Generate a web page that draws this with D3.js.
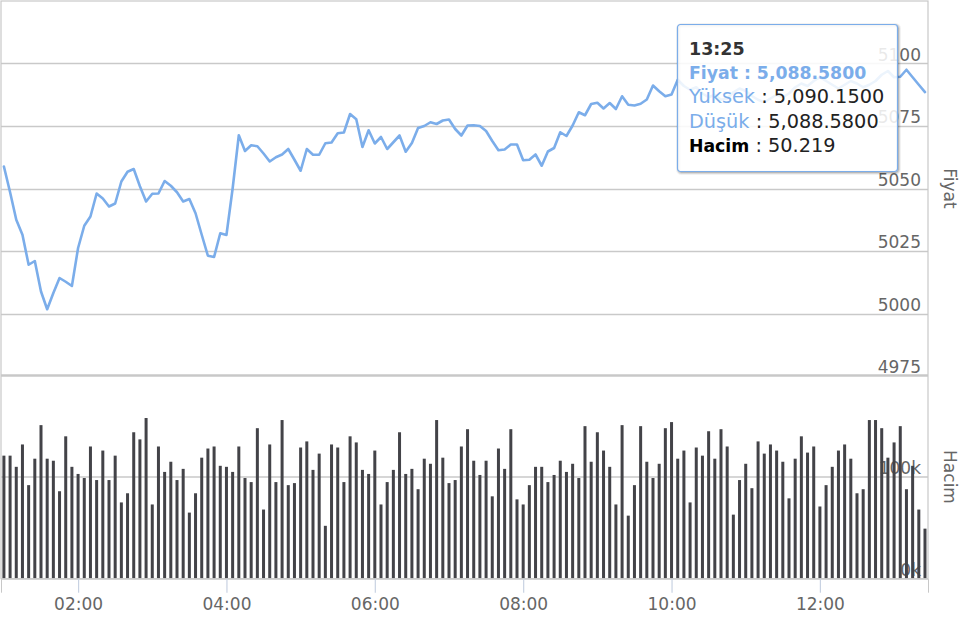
<!DOCTYPE html>
<html><head><meta charset="utf-8">
<script src="https://cdn.jsdelivr.net/npm/d3@7"></script>
<style>
html,body{margin:0;padding:0;background:#fff;}
svg{display:block;font-family:"DejaVu Sans",sans-serif;}
</style></head>
<body><svg id="c" width="960" height="623"></svg>
<script>
// ---- data ----
const startTime = "01:00";
const stepMinutes = 5;
const price = [
5058.8,5048.5,5037.5,5031.5,5019.5,5021.0,5008.8,5001.7,5008.2,5014.2,
5012.7,5011.0,5026.2,5035.1,5038.8,5048.0,5046.0,5042.8,5044.0,5052.8,
5056.7,5057.8,5050.9,5044.8,5047.9,5048.0,5053.0,5051.1,5048.5,5044.8,
5045.8,5040.1,5031.5,5023.1,5022.6,5032.1,5031.4,5050.0,5071.3,5065.0,
5067.3,5066.9,5064.0,5060.8,5062.5,5063.6,5065.8,5061.5,5057.1,5065.8,
5063.5,5063.5,5068.1,5068.4,5072.1,5072.4,5079.8,5077.7,5066.6,5073.3,
5068.0,5070.6,5065.8,5068.5,5071.2,5064.7,5068.2,5074.2,5075.0,5076.5,
5075.8,5077.2,5077.6,5073.8,5071.2,5075.2,5075.3,5075.0,5073.0,5069.0,
5065.3,5065.6,5067.6,5067.6,5061.3,5061.5,5063.6,5059.1,5064.8,5066.2,
5072.5,5071.0,5075.2,5080.5,5079.3,5083.8,5084.3,5082.0,5084.2,5081.8,
5086.9,5083.5,5083.2,5083.9,5085.6,5091.2,5088.9,5086.9,5087.6,5093.5,
5091.0,5089.5,5090.5,5088.0,5086.5,5087.5,5085.5,5086.0,5088.5,5090.0,
5089.0,5087.0,5085.5,5084.5,5086.0,5087.5,5086.5,5088.0,5090.5,5092.0,
5091.0,5093.0,5094.5,5093.0,5091.5,5090.0,5091.5,5093.0,5092.0,5090.5,
5091.5,5093.0,5095.5,5097.0,5094.5,5094.7,5097.5,5094.5,5091.5,5088.58
];
const volume = [
121,121,110,132,92,118,151,118,116,86,
140,110,103,99,130,97,126,97,121,75,
84,144,137,158,73,130,105,115,97,108,
65,84,119,128,130,111,110,105,130,99,
95,148,68,132,95,156,92,94,129,135,
107,123,52,132,129,95,140,134,107,103,
126,73,95,107,144,103,108,88,118,113,
156,119,94,97,130,147,116,102,116,81,
128,108,147,78,73,92,110,110,95,102,
116,105,113,99,150,115,144,126,110,73,
151,62,92,150,115,99,113,148,154,118,
126,75,129,121,145,118,147,130,63,97,
113,89,135,123,132,126,115,79,118,140,
124,130,71,92,110,126,132,118,84,88,
156,156,148,119,134,150,88,111,68,49.219
].map(v => v * 1000);
const xTickLabels = ["02:00","04:00","06:00","08:00","10:00","12:00"];
const priceTicks = [4975,5000,5025,5050,5075,5100];
const volumeTicks = [0,100000];
const volumeTickLabels = ["0k","100k"];
const tooltipTitle = "13:25";
const tooltipRows = [
  {label:"Fiyat", value:"5,088.5800", kind:"main"},
  {label:"Yüksek", value:"5,090.1500", kind:"sub"},
  {label:"Düşük", value:"5,088.5800", kind:"sub"},
  {label:"Hacim", value:"50.219", kind:"vol"}
];
const priceTitle = "Fiyat", volumeTitle = "Hacim";

// ---- build ----
const parse = s => { const [h,m] = s.split(":").map(Number); return new Date(2020,0,1,h,m); };
const t0 = parse(startTime);
const times = price.map((_, i) => new Date(t0.getTime() + i * stepMinutes * 60000));
const data = times.map((t, i) => ({t, p: price[i], v: volume[i]}));

const svg = d3.select("#c");
const L = 1, R = 928;
const pTop = 1, pBot = 376, vTop = 375.3, vBot = 578.7;
const LINE = "#7badea", BAR = "#434348", GRID = "#c9c9c9", TXT = "#666666";

const x = d3.scaleTime()
  .domain([new Date(2020,0,1,0,57,39), new Date(2020,0,1,13,27,26)])
  .range([L, R]);
const yP = d3.scaleLinear().domain([4975,5125]).range([pBot, pTop]);
const yV = d3.scaleLinear().domain([0,200000]).range([vBot, vTop]);

// gridlines price
svg.append("g").selectAll("line").data(priceTicks.slice(1)).join("line")
  .attr("x1", L).attr("x2", R)
  .attr("y1", d => Math.round(yP(d)) + 0.5).attr("y2", d => Math.round(yP(d)) + 0.5)
  .attr("stroke", GRID).attr("stroke-width", 1.3);
// gridline volume 100k
svg.append("line").attr("x1", L).attr("x2", R)
  .attr("y1", yV(100000)).attr("y2", yV(100000))
  .attr("stroke", GRID).attr("stroke-width", 1.3);

// volume labels (behind bars)
const volAxis = d3.axisLeft(yV).tickValues(volumeTicks).tickSize(0)
  .tickFormat((d,i) => volumeTickLabels[i]);
const gva = svg.append("g").attr("transform", `translate(${921},0)`).call(volAxis);
gva.select(".domain").remove();
gva.selectAll("text").attr("x", 0).attr("dy", "-0.2em")
  .attr("fill", TXT).attr("font-size", 17).attr("font-family", "DejaVu Sans");

// bars
svg.append("g").selectAll("rect").data(data).join("rect")
  .attr("x", d => x(d.t) - 1.5).attr("width", 3)
  .attr("y", d => yV(d.v)).attr("height", d => vBot - yV(d.v))
  .attr("fill", BAR);

// price axis labels
const pAxis = d3.axisLeft(yP).tickValues(priceTicks).tickSize(0).tickFormat(d3.format("d"));
const gpa = svg.append("g").attr("transform", `translate(${921},0)`).call(pAxis);
gpa.select(".domain").remove();
gpa.selectAll("text").attr("x", 0).attr("dy", "-0.2em")
  .attr("fill", TXT).attr("font-size", 17).attr("font-family", "DejaVu Sans");

// price line
svg.append("clipPath").attr("id","clipP").append("rect")
  .attr("x", L).attr("y", pTop).attr("width", R - L).attr("height", pBot - pTop);
svg.append("path").datum(data)
  .attr("clip-path", "url(#clipP)")
  .attr("d", d3.line().x(d => x(d.t)).y(d => yP(d.p)))
  .attr("fill", "none").attr("stroke", LINE).attr("stroke-width", 2.6)
  .attr("stroke-linejoin", "round").attr("stroke-linecap", "round");

// borders
svg.append("rect").attr("x", L).attr("y", pTop).attr("width", R - L).attr("height", vBot - pTop)
  .attr("fill", "none").attr("stroke", "#c8c8c8").attr("stroke-width", 1.2);
svg.append("line").attr("x1", L).attr("x2", R).attr("y1", 375.5).attr("y2", 375.5)
  .attr("stroke", "#c8c8c8").attr("stroke-width", 2.6);

// x axis
const xAxis = d3.axisBottom(x)
  .tickValues(xTickLabels.map(parse))
  .tickSize(14).tickFormat(d3.timeFormat("%H:%M"));
const gx = svg.append("g").attr("transform", `translate(0,${vBot})`).call(xAxis);
gx.select(".domain").attr("stroke", "#c8c8c8");
gx.selectAll(".tick line").attr("stroke", "#c8d2e2").attr("stroke-width", 1.2);
gx.selectAll("text").attr("fill", TXT).attr("font-size", 17)
  .attr("font-family", "DejaVu Sans").attr("y", 19).attr("dy", "0.71em");

// axis titles
svg.append("text").attr("transform", `translate(944,${(pTop+pBot)/2}) rotate(90)`)
  .attr("text-anchor", "middle").attr("fill", TXT).attr("font-size", 17).text(priceTitle);
svg.append("text").attr("transform", `translate(944,${yV(100000)}) rotate(90)`)
  .attr("text-anchor", "middle").attr("fill", TXT).attr("font-size", 17).text(volumeTitle);

// tooltip
const tt = svg.append("g").attr("transform", "translate(677.5,24.5)");
[5,3,1].forEach((w,i) => tt.append("rect")
  .attr("x", 1).attr("y", 1).attr("width", 220).attr("height", 147).attr("rx", 3)
  .attr("fill", "none").attr("stroke", "#000").attr("stroke-opacity", 0.05 * (i + 1))
  .attr("stroke-width", w));
tt.append("rect").attr("width", 220).attr("height", 147).attr("rx", 3)
  .attr("fill", "rgba(255,255,255,0.86)").attr("stroke", LINE).attr("stroke-width", 1.2);
tt.append("text").attr("x", 11.5).attr("y", 30.5).attr("font-size", 17.5)
  .attr("font-weight", "bold").attr("fill", "#333").text(tooltipTitle);
tooltipRows.forEach((r, i) => {
  const t = tt.append("text").attr("x", 11.5).attr("y", 54.5 + i * 24.4);
  if (r.kind === "main") {
    t.attr("font-size", 17.3).attr("font-weight", "bold").attr("fill", LINE)
      .text(`${r.label} : ${r.value}`);
  } else if (r.kind === "sub") {
    t.attr("font-size", 19.3);
    t.append("tspan").attr("fill", LINE).text(r.label);
    t.append("tspan").attr("fill", "#222").text(` : ${r.value}`);
  } else {
    t.append("tspan").attr("font-size", 17.3).attr("font-weight", "bold").attr("fill", "#000").text(r.label);
    t.append("tspan").attr("font-size", 19.3).attr("fill", "#222").text(` : ${r.value}`);
  }
});
</script></body></html>
